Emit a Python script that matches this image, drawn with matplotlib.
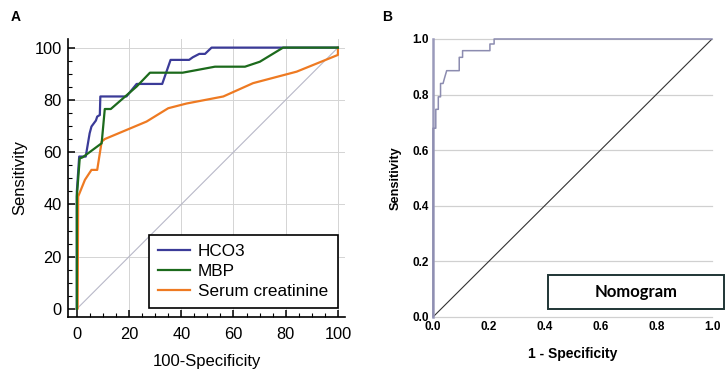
import matplotlib
matplotlib.use("Agg")
import matplotlib.pyplot as plt
from matplotlib.patches import Rectangle
from matplotlib.ticker import MultipleLocator

plt.rcParams['font.family'] = ['Liberation Sans', 'DejaVu Sans']

# panel A: ROC curves (100-specificity vs sensitivity, %)
hco3_x = [0, 0, 0.9, 3.4, 4.9, 5.6, 7.3, 7.8, 8.8, 9.0, 19.0, 22.9, 32.7, 35.9, 43.0, 44.4, 46.9, 49.1, 51.6, 100]
hco3_y = [0, 45, 58.3, 58.3, 67.2, 69.8, 72.1, 73.6, 74.2, 81.3, 81.3, 86.1, 86.1, 95.3, 95.3, 96.3, 97.6, 97.6, 100, 100]

mbp_x = [0, 0, 1.1, 2.2, 9.5, 10.7, 13.0, 22.9, 28.0, 40.5, 52.9, 64.4, 70.1, 79.0, 100]
mbp_y = [0, 43, 57.6, 58.0, 63.4, 76.5, 76.5, 85.1, 90.4, 90.4, 92.7, 92.7, 94.6, 100, 100]

creat_x = [0, 0.3, 0.5, 3.1, 5.6, 7.8, 9.5, 10.7, 26.7, 35.0, 42.0, 56.1, 67.5, 84.2, 100, 100]
creat_y = [0, 0, 43, 49.4, 53.2, 53.2, 64.0, 65.0, 71.7, 76.8, 78.6, 81.3, 86.4, 90.8, 97.2, 100]

# panel B: nomogram ROC curve
nomo_x = [0, 0, 0.01, 0.01, 0.019, 0.019, 0.027, 0.027, 0.036, 0.042, 0.049, 0.094, 0.094, 0.106, 0.106, 0.204, 0.204, 0.219, 0.219, 1.0]
nomo_y = [0, 0.679, 0.679, 0.747, 0.747, 0.792, 0.792, 0.84, 0.84, 0.862, 0.886, 0.886, 0.934, 0.934, 0.958, 0.958, 0.982, 0.982, 1.0, 1.0]

fig = plt.figure(figsize=(7.27, 3.71), dpi=100)

# ---- panel A ----
ax = fig.add_axes([0.0935, 0.1456, 0.381, 0.7493])
ax.set_xlim(-3.4, 102.7)
ax.set_ylim(-3.1, 103.3)
for v in [20, 40, 60, 80, 100]:
    ax.axvline(v, color='#d4d4d4', lw=0.7, zorder=0)
    ax.axhline(v, color='#d4d4d4', lw=0.7, zorder=0)
ax.plot([0, 100], [0, 100], color='#b8b8c8', lw=0.8, zorder=1)
ax.plot(hco3_x, hco3_y, color='#3b3b98', lw=1.6, label='HCO3', zorder=3)
ax.plot(mbp_x, mbp_y, color='#1c6a1c', lw=1.6, label='MBP', zorder=3)
ax.plot(creat_x, creat_y, color='#ee7a22', lw=1.6, label='Serum creatinine', zorder=2)

ax.spines['top'].set_visible(False)
ax.spines['right'].set_visible(False)
ax.spines['left'].set_linewidth(1.2)
ax.spines['bottom'].set_linewidth(1.2)
ax.xaxis.set_major_locator(MultipleLocator(20))
ax.yaxis.set_major_locator(MultipleLocator(20))
ax.xaxis.set_minor_locator(MultipleLocator(5))
ax.yaxis.set_minor_locator(MultipleLocator(5))
ax.tick_params(which='major', length=5, width=1.1, labelsize=11.8, direction='in', pad=4.5)
ax.tick_params(axis='x', which='major', pad=7.5)
ax.tick_params(which='minor', length=3, width=0.8, direction='in')
ax.set_xlabel('100-Specificity', fontsize=12, labelpad=8)
ax.set_ylabel('Sensitivity', fontsize=12, labelpad=5)

leg = ax.legend(loc='lower right', bbox_to_anchor=(0.974, 0.031), fontsize=12.3,
                frameon=True, fancybox=False, edgecolor='black', framealpha=1,
                handlelength=1.9, borderpad=0.55, labelspacing=0.28, handletextpad=0.45,
                borderaxespad=0)
leg.get_frame().set_linewidth(1.2)

fig.text(0.014, 0.972, 'A', fontsize=10, fontweight='bold', va='top')

# ---- panel B ----
bx = fig.add_axes([0.5956, 0.1456, 0.3838, 0.7493])
bx.set_xlim(0, 1)
bx.set_ylim(0, 1.0)
for v in [0.0, 0.2, 0.4, 0.6, 0.8, 1.0]:
    bx.axhline(v, color='#d0d0d0', lw=0.9, zorder=0, clip_on=False)
bx.plot([0, 1], [0, 1], color='#333333', lw=0.8, zorder=2)
bx.plot(nomo_x, nomo_y, color='#8c8cb0', lw=1.1, zorder=3, clip_on=False)
for s in ['top', 'right', 'bottom']:
    bx.spines[s].set_visible(False)
bx.spines['left'].set_color('#9a9abb')
bx.spines['left'].set_linewidth(1.8)
bx.set_xticks([0, 0.2, 0.4, 0.6, 0.8, 1.0])
bx.set_yticks([0, 0.2, 0.4, 0.6, 0.8, 1.0])
bx.set_xticklabels(['0.0', '0.2', '0.4', '0.6', '0.8', '1.0'], fontweight='bold')
bx.set_yticklabels(['0.0', '0.2', '0.4', '0.6', '0.8', '1.0'], fontweight='bold')
bx.tick_params(length=0, labelsize=8.5, pad=3)
bx.set_xlabel('1 - Specificity', fontsize=10, fontweight='bold', labelpad=10)
bx.set_ylabel('Sensitivity', fontsize=9.2, fontweight='bold', labelpad=8)

fig.patches.append(Rectangle((548 / 727, 1 - 309 / 371), 176 / 727, 34 / 371,
                             transform=fig.transFigure, facecolor='white',
                             edgecolor='#1f3535', lw=1.4, zorder=5))
fig.text((548 + 88) / 727, 1 - 292 / 371, 'Nomogram', fontsize=12, fontweight='bold',
         family=['Lato', 'DejaVu Sans'], ha='center', va='center', zorder=6)

fig.text(0.525, 0.972, 'B', fontsize=10, fontweight='bold', va='top')

fig.savefig('out.png', dpi=100)
